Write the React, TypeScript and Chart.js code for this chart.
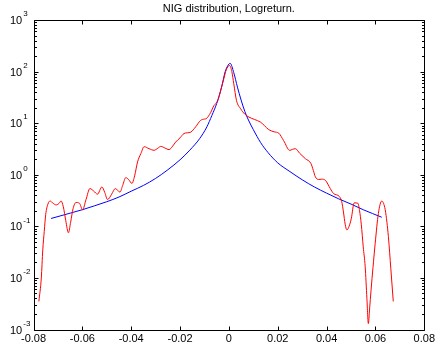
import React, { useEffect, useRef } from "react";
import { Chart, registerables } from "chart.js";

Chart.register(...registerables);

const TITLE = "NIG distribution, Logreturn.";
const FONT = '"Liberation Sans", Arial, Helvetica, sans-serif';

// Empirical log-return density (red)
const empX = [
  -0.0778, -0.0768, -0.0762, -0.0756, -0.075, -0.0741, -0.0732, -0.072, -0.0707, -0.0695,
  -0.0687, -0.0678, -0.0668, -0.0657, -0.0648, -0.0638, -0.0626, -0.0612, -0.0599, -0.0585,
  -0.0569, -0.0553, -0.0538, -0.052, -0.0508, -0.0497, -0.048, -0.0465, -0.0446, -0.0435,
  -0.0422, -0.041, -0.0397, -0.0386, -0.0374, -0.036, -0.0347, -0.0327, -0.0306, -0.029,
  -0.0279, -0.0262, -0.0245, -0.023, -0.0218, -0.02, -0.0184, -0.017, -0.0156, -0.0136,
  -0.0116, -0.01, -0.0093, -0.0075, -0.0061, -0.0048, -0.004, -0.003, -0.002, -0.0011,
  0.0003, 0.0012, 0.002, 0.0031, 0.0048, 0.0065, 0.0082, 0.0105, 0.0129, 0.0145,
  0.0163, 0.0185, 0.0204, 0.0224, 0.0249, 0.026, 0.0272, 0.029, 0.0313, 0.0336,
  0.0346, 0.0354, 0.0367, 0.038, 0.0395, 0.0415, 0.0429, 0.0452, 0.0462, 0.0469,
  0.0476, 0.0483, 0.0492, 0.0501, 0.0513, 0.0528, 0.0535, 0.0542, 0.055, 0.0558,
  0.0565, 0.0571, 0.0576, 0.0582, 0.059, 0.0599, 0.0612, 0.0626, 0.0633, 0.064,
  0.0647, 0.0653, 0.0663, 0.0673,
];
const empY = [
  0.0035, 0.01, 0.035, 0.08, 0.17, 0.27, 0.31, 0.28, 0.26, 0.28,
  0.31, 0.24, 0.13, 0.075, 0.12, 0.22, 0.29, 0.28, 0.21, 0.33,
  0.54, 0.48, 0.42, 0.58, 0.45, 0.33, 0.42, 0.54, 0.46, 0.62,
  0.88, 0.8, 0.68, 0.95, 1.77, 2.6, 3.5, 3.2, 2.98, 3.3,
  3.55, 3.3, 3.07, 3.6, 4.3, 5.2, 6.3, 6.5, 6.7, 8.5,
  11.3, 12.0, 12.2, 16, 22, 26, 33, 50, 75, 108,
  131, 100, 58, 27.6, 19, 15, 13.1, 11.8, 10.5, 9,
  7.5, 6.8, 6.4, 4.6, 2.97, 3.1, 3.2, 2.6, 2.05, 1.65,
  1.2, 0.91, 0.81, 0.82, 0.78, 0.54, 0.43, 0.38, 0.3, 0.19,
  0.11, 0.085, 0.1, 0.14, 0.285, 0.28, 0.2, 0.11, 0.04, 0.0165,
  0.004, 0.0013, 0.0025, 0.0058, 0.016, 0.047, 0.178, 0.31, 0.28, 0.21,
  0.12, 0.063, 0.015, 0.0035,
];

// Fitted NIG density (blue)
const nigX = [
  -0.0728, -0.065, -0.06, -0.055, -0.05, -0.045, -0.04, -0.035, -0.03, -0.025,
  -0.02, -0.016, -0.012, -0.009, -0.007, -0.005, -0.003, -0.0015, 0.0, 0.0005,
  0.002, 0.0035, 0.005, 0.0065, 0.008, 0.01, 0.013, 0.016, 0.02, 0.025,
  0.03, 0.035, 0.04, 0.045, 0.05, 0.055, 0.0626,
];
const nigY = [
  0.142, 0.18, 0.21, 0.25, 0.3, 0.37, 0.48, 0.62, 0.85, 1.25,
  1.95, 3.0, 5.0, 8.5, 14, 24, 50, 100, 140, 145,
  95, 50, 28, 17, 11.5, 7.5, 4.2, 2.7, 1.7, 1.15,
  0.8, 0.58, 0.44, 0.34, 0.27, 0.21, 0.15,
];

const xTickValues = [-0.08, -0.06, -0.04, -0.02, 0, 0.02, 0.04, 0.06, 0.08];
const yExponents = [-3, -2, -1, 0, 1, 2, 3];

const zip = (xs: number[], ys: number[]) => xs.map((x, i) => ({ x, y: ys[i] }));

// Boxed axes with inward ticks, log minor ticks and 10^n labels
const frameAndTicks = {
  id: "frameAndTicks",
  afterDraw(chart: any) {
    const { ctx, chartArea, scales } = chart;
    const xs = scales.x;
    const ys = scales.y;
    const L = Math.round(chartArea.left) + 0.5;
    const R = Math.round(chartArea.right) + 0.5;
    const T = Math.round(chartArea.top) + 0.5;
    const B = Math.round(chartArea.bottom) + 0.5;
    ctx.save();
    ctx.strokeStyle = "#000";
    ctx.lineWidth = 1;
    ctx.beginPath();
    ctx.rect(L, T, R - L, B - T);
    for (const v of xTickValues) {
      const px = Math.round(xs.getPixelForValue(v)) + 0.5;
      ctx.moveTo(px, B);
      ctx.lineTo(px, B - 4);
      ctx.moveTo(px, T);
      ctx.lineTo(px, T + 4);
    }
    for (const e of yExponents) {
      const py = Math.round(ys.getPixelForValue(Math.pow(10, e))) + 0.5;
      ctx.moveTo(L, py);
      ctx.lineTo(L + 4, py);
      ctx.moveTo(R, py);
      ctx.lineTo(R - 4, py);
      if (e < 3) {
        for (let m = 2; m <= 9; m++) {
          const pm = Math.round(ys.getPixelForValue(m * Math.pow(10, e))) + 0.5;
          ctx.moveTo(L, pm);
          ctx.lineTo(L + 2.5, pm);
          ctx.moveTo(R, pm);
          ctx.lineTo(R - 2.5, pm);
        }
      }
    }
    ctx.stroke();

    ctx.fillStyle = "#000";
    ctx.textAlign = "left";
    ctx.textBaseline = "middle";
    for (const e of yExponents) {
      const py = ys.getPixelForValue(Math.pow(10, e));
      ctx.font = `11px ${FONT}`;
      ctx.fillText("10", 10, py + 1);
      const w = ctx.measureText("10").width;
      ctx.font = `8px ${FONT}`;
      ctx.fillText(e < 0 ? `-${-e}` : `${e}`, 10 + w + 1, py - 6);
    }
    ctx.restore();
  },
};

export default function App() {
  const canvasRef = useRef<HTMLCanvasElement | null>(null);

  useEffect(() => {
    if (!canvasRef.current) return;
    const chart = new Chart(canvasRef.current, {
      type: "line",
      data: {
        datasets: [
          {
            data: zip(empX, empY),
            borderColor: "#ff0000",
            borderWidth: 1,
            pointRadius: 0,
            cubicInterpolationMode: "monotone",
            fill: false,
          },
          {
            data: zip(nigX, nigY),
            borderColor: "#0000ff",
            borderWidth: 1,
            pointRadius: 0,
            cubicInterpolationMode: "monotone",
            fill: false,
          },
        ],
      },
      options: {
        animation: false,
        responsive: false,
        devicePixelRatio: 1,
        layout: { padding: { left: 0, right: 11, top: 0, bottom: 0 } },
        plugins: {
          legend: { display: false },
          tooltip: { enabled: false },
          title: {
            display: true,
            text: TITLE,
            fullSize: false,
            color: "#000",
            font: { size: 11, weight: "normal", family: FONT },
            padding: { top: 2, bottom: 4.8 },
          },
        },
        scales: {
          x: {
            type: "linear",
            min: -0.08,
            max: 0.08,
            grid: { display: false, drawTicks: false },
            border: { display: false },
            ticks: {
              stepSize: 0.02,
              autoSkip: false,
              maxRotation: 0,
              padding: 3,
              color: "#000",
              font: { size: 11, family: FONT },
              callback: (v: any) => (Math.abs(Number(v)) < 1e-9 ? "0" : Number(v).toFixed(2)),
            },
            afterFit: (s: any) => {
              s.height = 22.5;
            },
          },
          y: {
            type: "logarithmic",
            min: 0.001,
            max: 1000,
            grid: { display: false, drawTicks: false },
            border: { display: false },
            ticks: { display: false },
            afterFit: (s: any) => {
              s.width = 33.5;
            },
          },
        },
      },
      plugins: [frameAndTicks],
    } as any);
    return () => chart.destroy();
  }, []);

  return (
    <div style={{ position: "fixed", left: 0, top: 0, width: 438, height: 352, background: "#fff" }}>
      <canvas ref={canvasRef} width={438} height={352} />
    </div>
  );
}
